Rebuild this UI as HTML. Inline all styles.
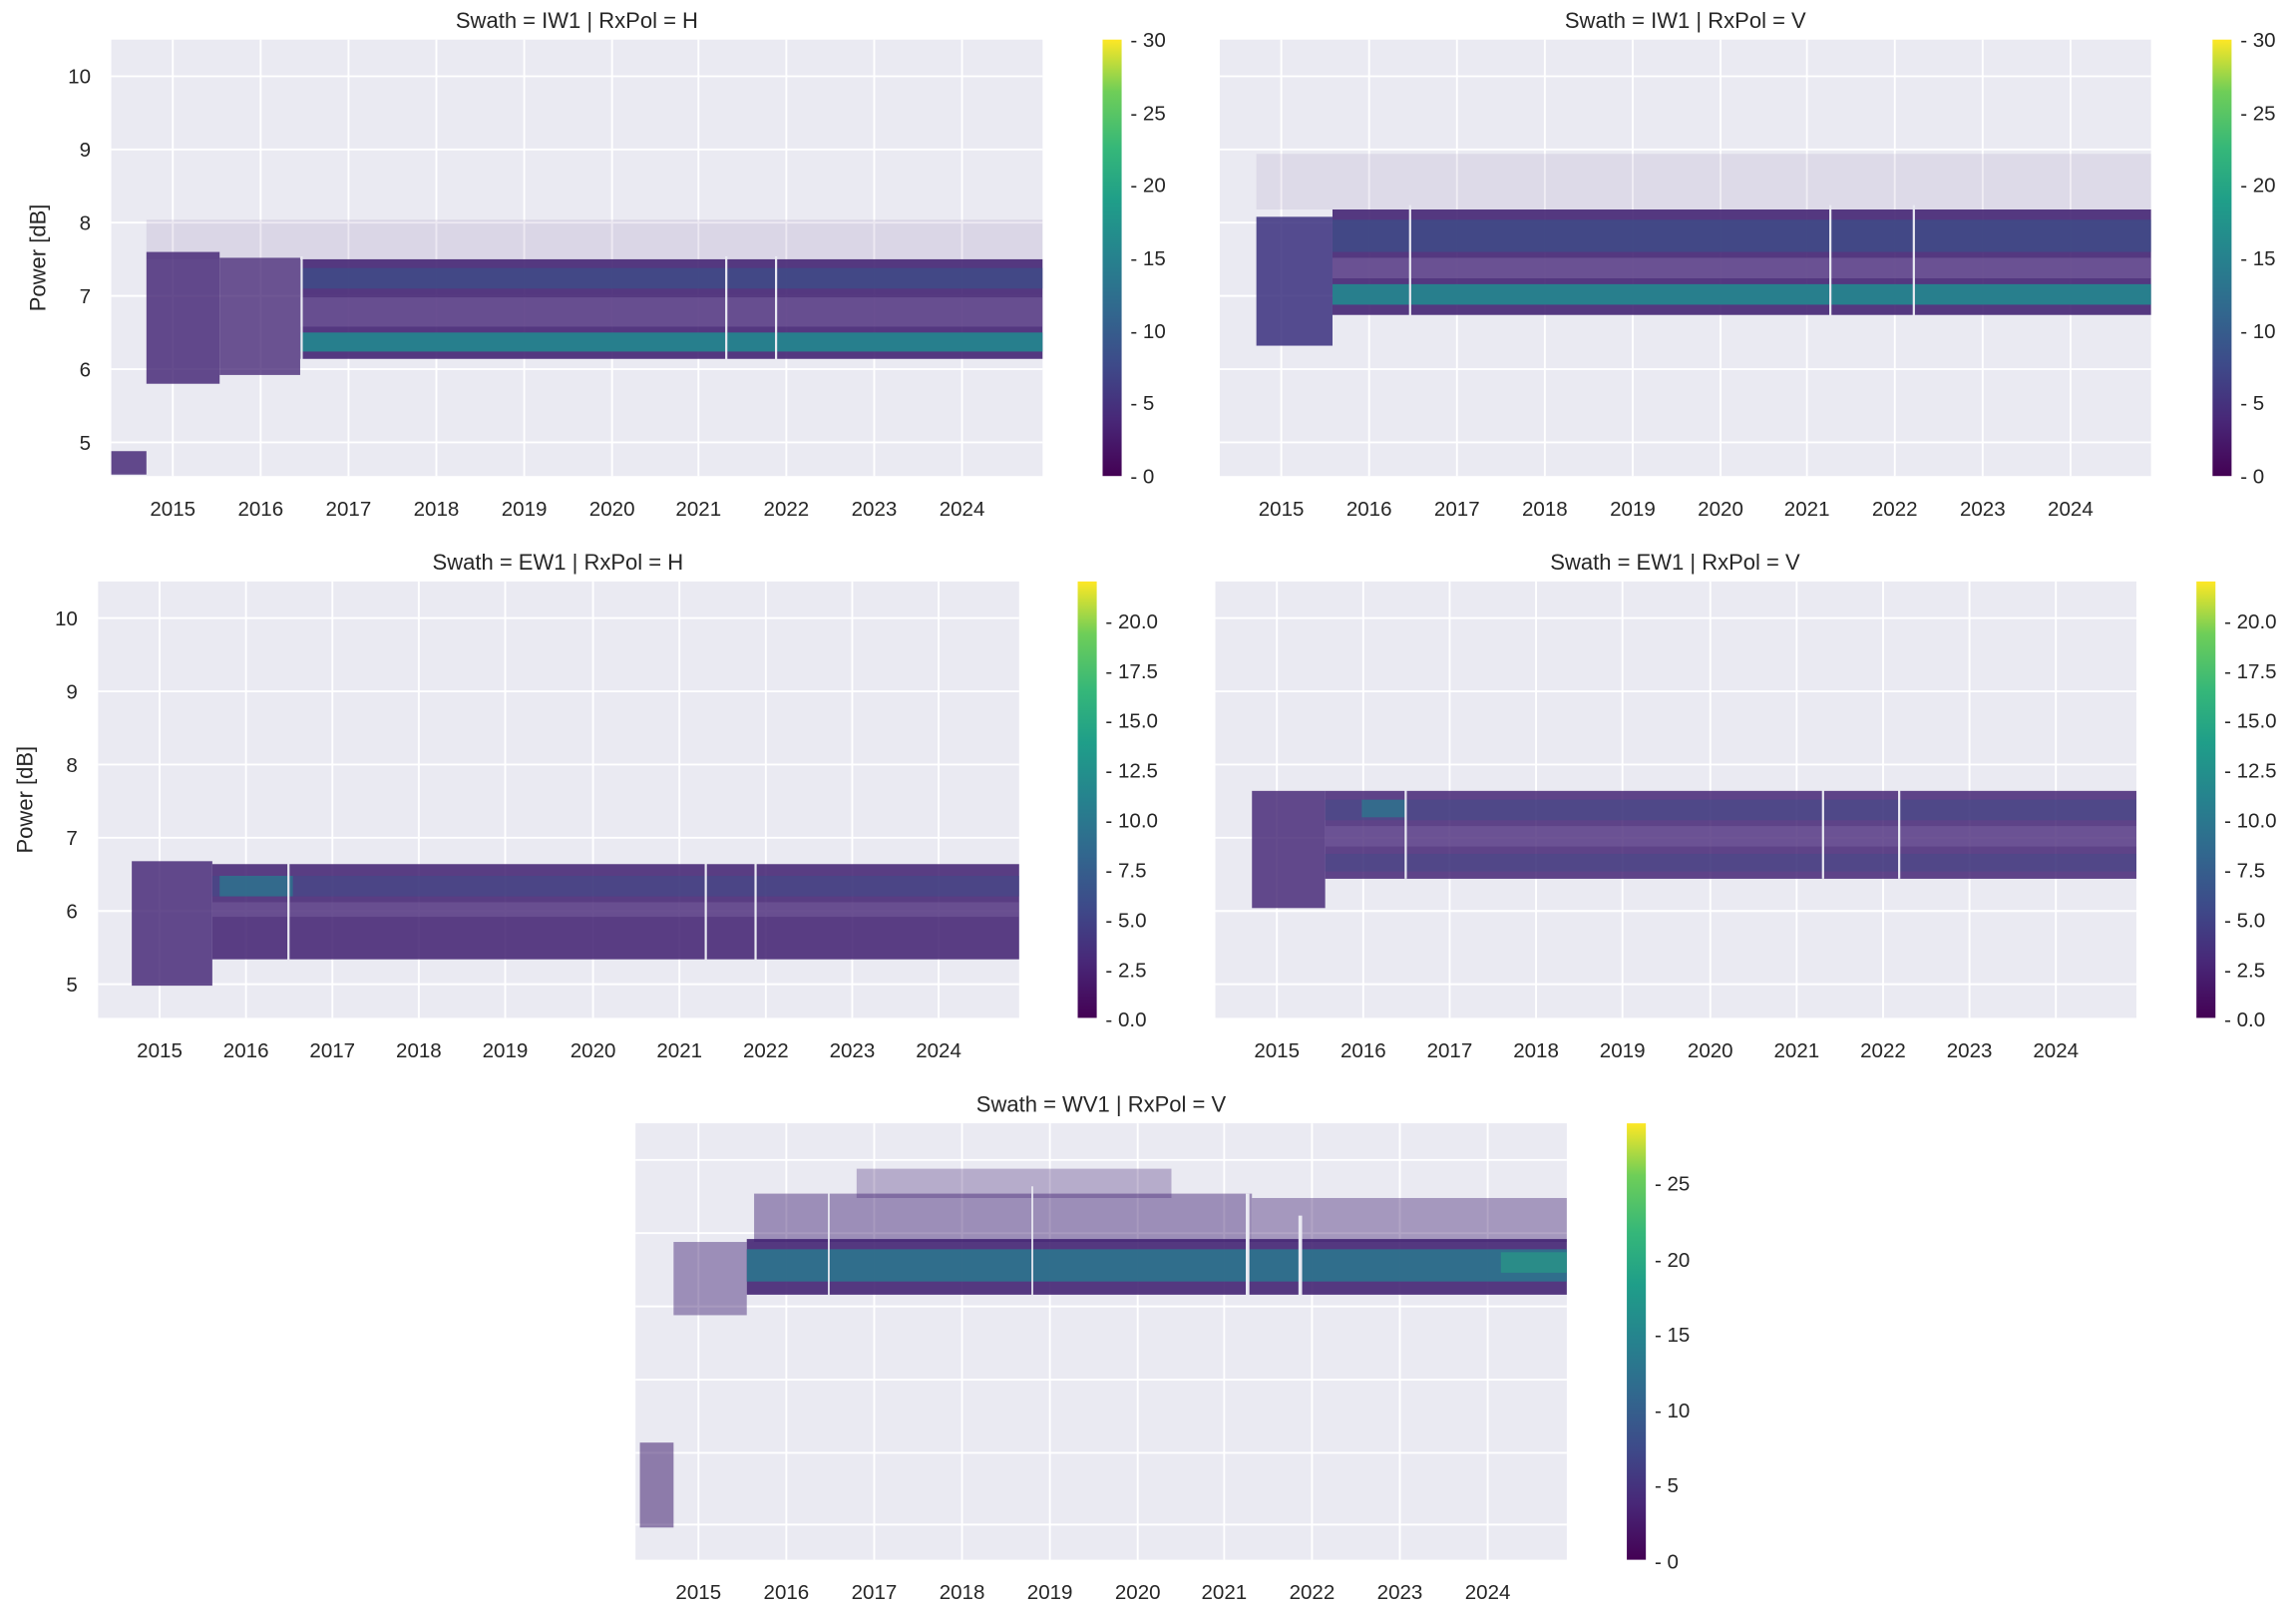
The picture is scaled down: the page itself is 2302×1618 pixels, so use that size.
<!DOCTYPE html>
<html><head><meta charset="utf-8"><style>html,body{margin:0;padding:0;background:#fff}svg{display:block}</style></head>
<body>
<svg xmlns="http://www.w3.org/2000/svg" width="2302" height="1618" viewBox="0 0 1568 1102" font-family="'Liberation Sans','DejaVu Sans',sans-serif" fill="#262626">
<defs>
<linearGradient id="vir" x1="0" y1="1" x2="0" y2="0">
<stop offset="0" stop-color="#440154"/><stop offset="0.13" stop-color="#482878"/><stop offset="0.25" stop-color="#3e4989"/><stop offset="0.38" stop-color="#31688e"/><stop offset="0.5" stop-color="#26828e"/><stop offset="0.63" stop-color="#1f9e89"/><stop offset="0.75" stop-color="#35b779"/><stop offset="0.88" stop-color="#6ece58"/><stop offset="1" stop-color="#fde725"/>
</linearGradient>
</defs>
<rect width="1568" height="1102" fill="#fff"/>

<!-- Panel 1 -->
<rect x="76" y="27" width="636" height="298" fill="#eaeaf2"/>
<g stroke="#fff" stroke-width="1.3">
<line x1="76" x2="712" y1="52" y2="52"/><line x1="76" x2="712" y1="102" y2="102"/><line x1="76" x2="712" y1="152" y2="152"/><line x1="76" x2="712" y1="202" y2="202"/><line x1="76" x2="712" y1="252" y2="252"/><line x1="76" x2="712" y1="302" y2="302"/>
<line y1="27" y2="325" x1="118" x2="118"/><line y1="27" y2="325" x1="178" x2="178"/><line y1="27" y2="325" x1="238" x2="238"/><line y1="27" y2="325" x1="298" x2="298"/><line y1="27" y2="325" x1="358" x2="358"/><line y1="27" y2="325" x1="418" x2="418"/><line y1="27" y2="325" x1="477" x2="477"/><line y1="27" y2="325" x1="537" x2="537"/><line y1="27" y2="325" x1="597" x2="597"/><line y1="27" y2="325" x1="657" x2="657"/>
</g>
<rect x="100" y="150" width="612" height="27" fill="#6a4a92" opacity="0.12"/>
<rect x="205" y="177" width="507" height="68" fill="#3f1f70" opacity="0.88"/>
<rect x="205" y="183" width="507" height="14" fill="#33558b" opacity="0.55"/>
<rect x="205" y="203" width="507" height="20" fill="#8b78b0" opacity="0.35"/>
<rect x="205" y="227" width="507" height="13" fill="#22878e" opacity="0.9"/>
<rect x="100" y="172" width="50" height="90" fill="#3f1f70" opacity="0.8"/>
<rect x="150" y="176" width="55" height="80" fill="#3f1f70" opacity="0.75"/>
<rect x="76" y="308" width="24" height="16" fill="#3f1f70" opacity="0.8"/>
<g stroke="#eaeaf2" stroke-width="1.5"><line x1="206" x2="206" y1="175" y2="247"/><line x1="496" x2="496" y1="175" y2="247"/><line x1="530" x2="530" y1="175" y2="247"/></g>
<text x="394" y="19" font-size="15" text-anchor="middle">Swath = IW1 | RxPol = H</text>
<g font-size="14" text-anchor="end"><text x="62" y="57">10</text><text x="62" y="107">9</text><text x="62" y="157">8</text><text x="62" y="207">7</text><text x="62" y="257">6</text><text x="62" y="307">5</text></g>
<text transform="translate(31,176) rotate(-90)" font-size="15" text-anchor="middle">Power [dB]</text>
<g font-size="14" text-anchor="middle"><text x="118" y="352">2015</text><text x="178" y="352">2016</text><text x="238" y="352">2017</text><text x="298" y="352">2018</text><text x="358" y="352">2019</text><text x="418" y="352">2020</text><text x="477" y="352">2021</text><text x="537" y="352">2022</text><text x="597" y="352">2023</text><text x="657" y="352">2024</text></g>
<rect x="753" y="27" width="13" height="298" fill="url(#vir)"/>
<g font-size="14"><text x="772" y="330">- 0</text><text x="772" y="280">- 5</text><text x="772" y="231">- 10</text><text x="772" y="181">- 15</text><text x="772" y="131">- 20</text><text x="772" y="82">- 25</text><text x="772" y="32">- 30</text></g>

<!-- Panel 2 -->
<rect x="833" y="27" width="636" height="298" fill="#eaeaf2"/>
<g stroke="#fff" stroke-width="1.3">
<line x1="833" x2="1469" y1="52" y2="52"/><line x1="833" x2="1469" y1="102" y2="102"/><line x1="833" x2="1469" y1="152" y2="152"/><line x1="833" x2="1469" y1="202" y2="202"/><line x1="833" x2="1469" y1="252" y2="252"/><line x1="833" x2="1469" y1="302" y2="302"/>
<line y1="27" y2="325" x1="875" x2="875"/><line y1="27" y2="325" x1="935" x2="935"/><line y1="27" y2="325" x1="995" x2="995"/><line y1="27" y2="325" x1="1055" x2="1055"/><line y1="27" y2="325" x1="1115" x2="1115"/><line y1="27" y2="325" x1="1175" x2="1175"/><line y1="27" y2="325" x1="1234" x2="1234"/><line y1="27" y2="325" x1="1294" x2="1294"/><line y1="27" y2="325" x1="1354" x2="1354"/><line y1="27" y2="325" x1="1414" x2="1414"/>
</g>
<rect x="858" y="105" width="611" height="38" fill="#6a4a92" opacity="0.1"/>
<rect x="910" y="143" width="559" height="72" fill="#3f1f70" opacity="0.88"/>
<rect x="910" y="150" width="559" height="22" fill="#33558b" opacity="0.55"/>
<rect x="910" y="176" width="559" height="14" fill="#8b78b0" opacity="0.4"/>
<rect x="910" y="194" width="559" height="14" fill="#24878e" opacity="0.9"/>
<rect x="858" y="148" width="52" height="88" fill="#3a2f7e" opacity="0.85"/>
<g stroke="#eaeaf2" stroke-width="1.5"><line x1="963" x2="963" y1="140" y2="216"/><line x1="1250" x2="1250" y1="140" y2="216"/><line x1="1307" x2="1307" y1="140" y2="216"/></g>
<text x="1151" y="19" font-size="15" text-anchor="middle">Swath = IW1 | RxPol = V</text>
<g font-size="14" text-anchor="middle"><text x="875" y="352">2015</text><text x="935" y="352">2016</text><text x="995" y="352">2017</text><text x="1055" y="352">2018</text><text x="1115" y="352">2019</text><text x="1175" y="352">2020</text><text x="1234" y="352">2021</text><text x="1294" y="352">2022</text><text x="1354" y="352">2023</text><text x="1414" y="352">2024</text></g>
<rect x="1511" y="27" width="13" height="298" fill="url(#vir)"/>
<g font-size="14"><text x="1530" y="330">- 0</text><text x="1530" y="280">- 5</text><text x="1530" y="231">- 10</text><text x="1530" y="181">- 15</text><text x="1530" y="131">- 20</text><text x="1530" y="82">- 25</text><text x="1530" y="32">- 30</text></g>

<!-- Panel 3 -->
<rect x="67" y="397" width="629" height="298" fill="#eaeaf2"/>
<g stroke="#fff" stroke-width="1.3">
<line x1="67" x2="696" y1="422" y2="422"/><line x1="67" x2="696" y1="472" y2="472"/><line x1="67" x2="696" y1="522" y2="522"/><line x1="67" x2="696" y1="572" y2="572"/><line x1="67" x2="696" y1="622" y2="622"/><line x1="67" x2="696" y1="672" y2="672"/>
<line y1="397" y2="695" x1="109" x2="109"/><line y1="397" y2="695" x1="168" x2="168"/><line y1="397" y2="695" x1="227" x2="227"/><line y1="397" y2="695" x1="286" x2="286"/><line y1="397" y2="695" x1="345" x2="345"/><line y1="397" y2="695" x1="405" x2="405"/><line y1="397" y2="695" x1="464" x2="464"/><line y1="397" y2="695" x1="523" x2="523"/><line y1="397" y2="695" x1="582" x2="582"/><line y1="397" y2="695" x1="641" x2="641"/>
</g>
<rect x="145" y="590" width="551" height="65" fill="#3f1f70" opacity="0.85"/>
<rect x="145" y="598" width="551" height="14" fill="#3a4f89" opacity="0.45"/>
<rect x="145" y="616" width="551" height="10" fill="#8b78b0" opacity="0.3"/>
<rect x="150" y="598" width="50" height="14" fill="#2a7a8e" opacity="0.7"/>
<rect x="90" y="588" width="55" height="85" fill="#3f1f70" opacity="0.8"/>
<g stroke="#eaeaf2" stroke-width="1.5"><line x1="197" x2="197" y1="588" y2="656"/><line x1="482" x2="482" y1="588" y2="656"/><line x1="516" x2="516" y1="588" y2="660"/></g>
<text x="381" y="389" font-size="15" text-anchor="middle">Swath = EW1 | RxPol = H</text>
<g font-size="14" text-anchor="end"><text x="53" y="427">10</text><text x="53" y="477">9</text><text x="53" y="527">8</text><text x="53" y="577">7</text><text x="53" y="627">6</text><text x="53" y="677">5</text></g>
<text transform="translate(22,546) rotate(-90)" font-size="15" text-anchor="middle">Power [dB]</text>
<g font-size="14" text-anchor="middle"><text x="109" y="722">2015</text><text x="168" y="722">2016</text><text x="227" y="722">2017</text><text x="286" y="722">2018</text><text x="345" y="722">2019</text><text x="405" y="722">2020</text><text x="464" y="722">2021</text><text x="523" y="722">2022</text><text x="582" y="722">2023</text><text x="641" y="722">2024</text></g>
<rect x="736" y="397" width="13" height="298" fill="url(#vir)"/>
<g font-size="14"><text x="755" y="701">- 0.0</text><text x="755" y="667">- 2.5</text><text x="755" y="633">- 5.0</text><text x="755" y="599">- 7.5</text><text x="755" y="565">- 10.0</text><text x="755" y="531">- 12.5</text><text x="755" y="497">- 15.0</text><text x="755" y="463">- 17.5</text><text x="755" y="429">- 20.0</text></g>

<!-- Panel 4 -->
<rect x="830" y="397" width="629" height="298" fill="#eaeaf2"/>
<g stroke="#fff" stroke-width="1.3">
<line x1="830" x2="1459" y1="422" y2="422"/><line x1="830" x2="1459" y1="472" y2="472"/><line x1="830" x2="1459" y1="522" y2="522"/><line x1="830" x2="1459" y1="572" y2="572"/><line x1="830" x2="1459" y1="622" y2="622"/><line x1="830" x2="1459" y1="672" y2="672"/>
<line y1="397" y2="695" x1="872" x2="872"/><line y1="397" y2="695" x1="931" x2="931"/><line y1="397" y2="695" x1="990" x2="990"/><line y1="397" y2="695" x1="1049" x2="1049"/><line y1="397" y2="695" x1="1108" x2="1108"/><line y1="397" y2="695" x1="1168" x2="1168"/><line y1="397" y2="695" x1="1227" x2="1227"/><line y1="397" y2="695" x1="1286" x2="1286"/><line y1="397" y2="695" x1="1345" x2="1345"/><line y1="397" y2="695" x1="1404" x2="1404"/>
</g>
<rect x="905" y="540" width="554" height="60" fill="#3f1f70" opacity="0.82"/>
<rect x="905" y="546" width="554" height="14" fill="#3a4f89" opacity="0.4"/>
<rect x="905" y="564" width="554" height="14" fill="#8b78b0" opacity="0.3"/>
<rect x="905" y="583" width="554" height="12" fill="#3a4f89" opacity="0.35"/>
<rect x="930" y="546" width="30" height="12" fill="#2a7a8e" opacity="0.7"/>
<rect x="855" y="540" width="50" height="80" fill="#3f1f70" opacity="0.8"/>
<g stroke="#eaeaf2" stroke-width="1.5"><line x1="960" x2="960" y1="538" y2="600"/><line x1="1245" x2="1245" y1="538" y2="600"/><line x1="1297" x2="1297" y1="538" y2="600"/></g>
<text x="1144" y="389" font-size="15" text-anchor="middle">Swath = EW1 | RxPol = V</text>
<g font-size="14" text-anchor="middle"><text x="872" y="722">2015</text><text x="931" y="722">2016</text><text x="990" y="722">2017</text><text x="1049" y="722">2018</text><text x="1108" y="722">2019</text><text x="1168" y="722">2020</text><text x="1227" y="722">2021</text><text x="1286" y="722">2022</text><text x="1345" y="722">2023</text><text x="1404" y="722">2024</text></g>
<rect x="1500" y="397" width="13" height="298" fill="url(#vir)"/>
<g font-size="14"><text x="1519" y="701">- 0.0</text><text x="1519" y="667">- 2.5</text><text x="1519" y="633">- 5.0</text><text x="1519" y="599">- 7.5</text><text x="1519" y="565">- 10.0</text><text x="1519" y="531">- 12.5</text><text x="1519" y="497">- 15.0</text><text x="1519" y="463">- 17.5</text><text x="1519" y="429">- 20.0</text></g>

<!-- Panel 5 -->
<rect x="434" y="767" width="636" height="298" fill="#eaeaf2"/>
<g stroke="#fff" stroke-width="1.3">
<line x1="434" x2="1070" y1="792" y2="792"/><line x1="434" x2="1070" y1="842" y2="842"/><line x1="434" x2="1070" y1="892" y2="892"/><line x1="434" x2="1070" y1="942" y2="942"/><line x1="434" x2="1070" y1="992" y2="992"/><line x1="434" x2="1070" y1="1041" y2="1041"/>
<line y1="767" y2="1065" x1="477" x2="477"/><line y1="767" y2="1065" x1="537" x2="537"/><line y1="767" y2="1065" x1="597" x2="597"/><line y1="767" y2="1065" x1="657" x2="657"/><line y1="767" y2="1065" x1="717" x2="717"/><line y1="767" y2="1065" x1="777" x2="777"/><line y1="767" y2="1065" x1="836" x2="836"/><line y1="767" y2="1065" x1="896" x2="896"/><line y1="767" y2="1065" x1="956" x2="956"/><line y1="767" y2="1065" x1="1016" x2="1016"/>
</g>
<rect x="515" y="815" width="340" height="33" fill="#3f1f70" opacity="0.45"/>
<rect x="585" y="798" width="215" height="20" fill="#3f1f70" opacity="0.3"/>
<rect x="855" y="818" width="215" height="30" fill="#3f1f70" opacity="0.4"/>
<rect x="510" y="846" width="560" height="38" fill="#3f1f70" opacity="0.88"/>
<rect x="510" y="853" width="560" height="22" fill="#2a788e" opacity="0.85"/>
<rect x="1025" y="855" width="45" height="14" fill="#27a085" opacity="0.6"/>
<rect x="460" y="848" width="50" height="50" fill="#3f1f70" opacity="0.45"/>
<rect x="437" y="985" width="23" height="58" fill="#3f1f70" opacity="0.55"/>
<g stroke="#eaeaf2" stroke-width="2.5"><line x1="852" x2="852" y1="815" y2="885"/><line x1="888" x2="888" y1="830" y2="885"/></g>
<g stroke="#eaeaf2" stroke-width="1.2"><line x1="566" x2="566" y1="810" y2="885"/><line x1="705" x2="705" y1="810" y2="885"/></g>
<text x="752" y="759" font-size="15" text-anchor="middle">Swath = WV1 | RxPol = V</text>
<g font-size="14" text-anchor="middle"><text x="477" y="1092">2015</text><text x="537" y="1092">2016</text><text x="597" y="1092">2017</text><text x="657" y="1092">2018</text><text x="717" y="1092">2019</text><text x="777" y="1092">2020</text><text x="836" y="1092">2021</text><text x="896" y="1092">2022</text><text x="956" y="1092">2023</text><text x="1016" y="1092">2024</text></g>
<rect x="1111" y="767" width="13" height="298" fill="url(#vir)"/>
<g font-size="14"><text x="1130" y="1071">- 0</text><text x="1130" y="1019">- 5</text><text x="1130" y="968">- 10</text><text x="1130" y="916">- 15</text><text x="1130" y="865">- 20</text><text x="1130" y="813">- 25</text></g>
</svg>
</body></html>
